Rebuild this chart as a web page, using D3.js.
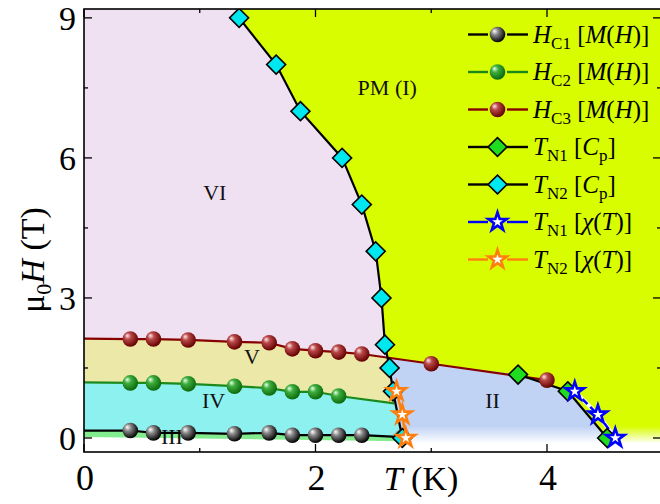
<!DOCTYPE html>
<html>
<head>
<meta charset="utf-8">
<script src="https://cdn.jsdelivr.net/npm/d3@7"></script>
<style>
  body { margin: 0; background: #fff; }
</style>
</head>
<body>
<div id="chart"></div>
<script>
// phase diagram data
const hc1T = [0.4, 0.6, 0.9, 1.3, 1.6, 1.8, 2.0, 2.2, 2.4, 2.75];
const hc1H = [0.16, 0.11, 0.11, 0.09, 0.11, 0.06, 0.06, 0.06, 0.06, 0.02];
const hc2T = [0.4, 0.6, 0.9, 1.3, 1.6, 1.8, 2.0, 2.2];
const hc2H = [1.18, 1.18, 1.16, 1.11, 1.07, 0.99, 0.99, 0.90];
const hc3T = [0.4, 0.6, 0.9, 1.3, 1.6, 1.8, 2.0, 2.2, 2.4, 3.0, 4.0];
const hc3H = [2.12, 2.12, 2.10, 2.06, 2.04, 1.91, 1.87, 1.84, 1.80, 1.59, 1.24];
const tn2CpT = [1.34, 1.66, 1.87, 2.23, 2.40, 2.52, 2.57, 2.60, 2.64, 2.67, 2.75];
const tn2CpH = [9, 8, 7, 6, 5, 4, 3, 2, 1.5, 1, 0];
const tn1CpT = [3.75, 4.18, 4.52];
const tn1CpH = [1.36, 1.0, 0];
const tn1ChiT = [4.24, 4.44, 4.59];
const tn1ChiH = [1.0, 0.5, 0];
const tn2ChiT = [2.70, 2.75, 2.78];
const tn2ChiH = [1.0, 0.5, 0];

// line ends that carry no symbol
const hc1Start = [0, 0.16];
const hc2Start = [0, 1.19];
const hc2End = [2.68, 0.74];
const hc3Start = [0, 2.13];
const tn2Top = [1.37, 9.19];
const tn2Bottom = [2.77, -0.3];
const tn1Bottom = [4.56, -0.3];
const phase3Low = [[0, 0.02], [2.75, -0.07]];

const xTicks = [0, 1, 2, 3, 4];
const xLabels = ["0", "", "2", "", "4"];
const yTicks = [0, 1.5, 3, 4.5, 6, 7.5, 9];
const yLabels = ["0", "", "3", "", "6", "", "9"];

const regionNames = ["PM (I)", "VI", "V", "IV", "III", "II"];
const regionT = [2.62, 1.13, 1.45, 1.12, 0.76, 3.53];
const regionH = [7.35, 5.1, 1.58, 0.65, -0.12, 0.65];

const zip = (a, b) => a.map((v, i) => [v, b[i]]);

const W = 660, H = 504;
const serif = "'Liberation Serif', 'Times New Roman', Times, serif";
const x = d3.scaleLinear().domain([0, 4.985]).range([84, 661]);
const y = d3.scaleLinear().domain([-0.3, 9.19]).range([452, 9]);

const svg = d3.select("#chart").append("svg")
    .attr("width", W)
    .attr("height", H)
    .attr("font-family", serif);

const defs = svg.append("defs");

defs.append("clipPath").attr("id", "plotClip")
  .append("rect")
    .attr("x", x(0)).attr("y", y(9.19))
    .attr("width", x(4.985) - x(0)).attr("height", y(-0.3) - y(9.19));

// region left of the TN2 line
const leftPoly = [[0, 9.19], tn2Top, ...zip(tn2CpT, tn2CpH), tn2Bottom, [0, -0.3]];
defs.append("clipPath").attr("id", "leftClip")
  .append("path")
    .attr("d", d3.line().x(d => x(d[0])).y(d => y(d[1]))(leftPoly) + "Z");

const fade = defs.append("linearGradient").attr("id", "fade")
    .attr("gradientUnits", "userSpaceOnUse")
    .attr("x1", 0).attr("x2", 0)
    .attr("y1", y(0.25)).attr("y2", y(-0.12));
fade.append("stop").attr("offset", 0).attr("stop-color", "#fff").attr("stop-opacity", 0);
fade.append("stop").attr("offset", 1).attr("stop-color", "#fff").attr("stop-opacity", 1);

function ball(id, c0, c1, c2) {
  const g = defs.append("radialGradient").attr("id", id)
      .attr("cx", "40%").attr("cy", "38%").attr("r", "62%")
      .attr("fx", "30%").attr("fy", "28%");
  g.append("stop").attr("offset", 0).attr("stop-color", c0);
  g.append("stop").attr("offset", 0.35).attr("stop-color", c1);
  g.append("stop").attr("offset", 1).attr("stop-color", c2);
}
ball("ballK", "#ffffff", "#8a8a8a", "#000000");
ball("ballG", "#e8ffe8", "#3fae3f", "#0b6a0b");
ball("ballR", "#ffe8e8", "#b94848", "#650000");

const line = d3.line().x(d => x(d[0])).y(d => y(d[1]));
const areaDown = d3.area().x(d => x(d[0])).y0(y(-0.3)).y1(d => y(d[1]));

const plot = svg.append("g").attr("clip-path", "url(#plotClip)");

// background fills
plot.append("rect")
    .attr("x", x(0)).attr("y", y(9.19))
    .attr("width", x(4.985) - x(0)).attr("height", y(-0.3) - y(9.19))
    .attr("fill", "#d8fd00");

const bluePoly = [hc3Start, ...zip(hc3T, hc3H).filter(d => d[0] < tn1CpT[0]),
  ...zip(tn1CpT, tn1CpH), tn1Bottom, [0, -0.3]];
plot.append("path")
    .attr("d", line(bluePoly) + "Z")
    .attr("fill", "#c0d3f5");

plot.append("rect")
    .attr("x", x(0)).attr("y", y(0.25))
    .attr("width", x(4.985) - x(0)).attr("height", y(-0.3) - y(0.25))
    .attr("fill", "url(#fade)");

const left = plot.append("g").attr("clip-path", "url(#leftClip)");
left.append("rect")
    .attr("x", x(0)).attr("y", y(9.19))
    .attr("width", x(3.2) - x(0)).attr("height", y(-0.3) - y(9.19))
    .attr("fill", "#f0e1f2");
left.append("path")
    .attr("d", areaDown([hc3Start, ...zip(hc3T, hc3H)]))
    .attr("fill", "#ece8a7");
left.append("path")
    .attr("d", areaDown([hc2Start, ...zip(hc2T, hc2H), hc2End, [3.2, hc2End[1]]]))
    .attr("fill", "#8df1ef");
left.append("path")
    .attr("d", areaDown([hc1Start, ...zip(hc1T, hc1H), [3.2, 0.02]]))
    .attr("fill", "#82ec8e");
left.append("path")
    .attr("d", areaDown([...phase3Low, [3.2, -0.07]]))
    .attr("fill", "#fff");

// region names
plot.selectAll("text.region")
  .data(regionNames)
  .join("text")
    .attr("class", "region")
    .attr("x", (d, i) => x(regionT[i]))
    .attr("y", (d, i) => y(regionH[i]))
    .attr("text-anchor", "middle")
    .attr("font-size", 22)
    .attr("fill", "#111")
    .text(d => d);

// boundary lines
plot.append("path").attr("d", line([hc3Start, ...zip(hc3T, hc3H)]))
    .attr("fill", "none").attr("stroke", "#870000").attr("stroke-width", 2.2);
plot.append("path").attr("d", line([hc2Start, ...zip(hc2T, hc2H), hc2End]))
    .attr("fill", "none").attr("stroke", "#1b8a1b").attr("stroke-width", 2.2);
plot.append("path").attr("d", line([hc1Start, ...zip(hc1T, hc1H)]))
    .attr("fill", "none").attr("stroke", "#000").attr("stroke-width", 2.2);
plot.append("path").attr("d", line(zip(tn2CpT, tn2CpH)))
    .attr("fill", "none").attr("stroke", "#000").attr("stroke-width", 2.2);
plot.append("path").attr("d", line(zip(tn1CpT, tn1CpH)))
    .attr("fill", "none").attr("stroke", "#000").attr("stroke-width", 2.2);
plot.append("path").attr("d", line(zip(tn2ChiT, tn2ChiH)))
    .attr("fill", "none").attr("stroke", "#ff7f0e").attr("stroke-width", 2.5);
plot.append("path").attr("d", line(zip(tn1ChiT, tn1ChiH)))
    .attr("fill", "none").attr("stroke", "#fff").attr("stroke-width", 4);
plot.append("path").attr("d", line(zip(tn1ChiT, tn1ChiH)))
    .attr("fill", "none").attr("stroke", "#0000ff").attr("stroke-width", 2.5)
    .attr("stroke-dasharray", "7,4");

// symbols
const diamond = d3.symbol(d3.symbolSquare, 180);
const star = d3.symbol(d3.symbolStar, 105);

function balls(T, Hs, fill) {
  plot.append("g").selectAll("circle")
    .data(zip(T, Hs))
    .join("circle")
      .attr("cx", d => x(d[0]))
      .attr("cy", d => y(d[1]))
      .attr("r", 7.8)
      .attr("fill", fill);
}
function diamonds(T, Hs, fill) {
  plot.append("g").selectAll("path")
    .data(zip(T, Hs))
    .join("path")
      .attr("d", diamond)
      .attr("transform", d => `translate(${x(d[0])},${y(d[1])}) rotate(45)`)
      .attr("fill", fill)
      .attr("stroke", "#000")
      .attr("stroke-width", 1.6);
}
function stars(T, Hs, color) {
  plot.append("g").selectAll("path")
    .data(zip(T, Hs))
    .join("path")
      .attr("d", star)
      .attr("transform", d => `translate(${x(d[0])},${y(d[1])})`)
      .attr("fill", "#fff")
      .attr("stroke", color)
      .attr("stroke-width", 2.6)
      .attr("stroke-linejoin", "miter");
}

balls(hc1T, hc1H, "url(#ballK)");
balls(hc2T, hc2H, "url(#ballG)");
diamonds(tn2CpT, tn2CpH, "#00e8ef");
diamonds(tn1CpT, tn1CpH, "#1fdc1f");
balls(hc3T, hc3H, "url(#ballR)");
stars(tn2ChiT, tn2ChiH, "#ff7f0e");
stars(tn1ChiT, tn1ChiH, "#0000ff");

// frame and ticks
svg.append("rect")
    .attr("x", x(0)).attr("y", y(9.19))
    .attr("width", x(4.985) - x(0)).attr("height", y(-0.3) - y(9.19))
    .attr("fill", "none").attr("stroke", "#000").attr("stroke-width", 1.6);

const tickLen = (lab) => lab === "" ? 4 : 8;
const ticks = svg.append("g").attr("stroke", "#000").attr("stroke-width", 1.3);
xTicks.forEach((t, i) => {
  ticks.append("line").attr("x1", x(t)).attr("x2", x(t))
      .attr("y1", y(-0.3)).attr("y2", y(-0.3) - tickLen(xLabels[i]));
  ticks.append("line").attr("x1", x(t)).attr("x2", x(t))
      .attr("y1", y(9.19)).attr("y2", y(9.19) + tickLen(xLabels[i]));
});
yTicks.forEach((t, i) => {
  ticks.append("line").attr("x1", x(0)).attr("x2", x(0) + tickLen(yLabels[i]))
      .attr("y1", y(t)).attr("y2", y(t));
  ticks.append("line").attr("x1", x(4.985)).attr("x2", x(4.985) - tickLen(yLabels[i]))
      .attr("y1", y(t)).attr("y2", y(t));
});

svg.append("g").selectAll("text")
  .data(xTicks)
  .join("text")
    .attr("x", d => x(d) + 1)
    .attr("y", 490)
    .attr("text-anchor", "middle")
    .attr("font-size", 36)
    .text((d, i) => xLabels[i]);

svg.append("g").selectAll("text")
  .data(yTicks)
  .join("text")
    .attr("x", 76)
    .attr("y", d => y(d) + 12.5)
    .attr("text-anchor", "end")
    .attr("font-size", 34)
    .text((d, i) => yLabels[i]);

// axis titles
const xt = svg.append("text")
    .attr("x", 421).attr("y", 490)
    .attr("text-anchor", "middle")
    .attr("font-size", 34);
xt.append("tspan").attr("font-style", "italic").text("T");
xt.append("tspan").text(" (K)");

const yt = svg.append("text")
    .attr("transform", "translate(44,260) rotate(-90)")
    .attr("text-anchor", "middle")
    .attr("font-size", 34);
yt.append("tspan").text("μ");
yt.append("tspan").attr("font-size", 22).attr("dy", 7).text("0");
yt.append("tspan").attr("font-style", "italic").attr("dy", -7).text("H");
yt.append("tspan").text(" (T)");

// legend
const legendItems = [
  { color: "#000", sym: "ball", fill: "url(#ballK)", txt: [["H", "i"], ["C1", "s"], [" [", ""], ["M", "i"], ["(", ""], ["H", "i"], [")]", ""]] },
  { color: "#1b8a1b", sym: "ball", fill: "url(#ballG)", txt: [["H", "i"], ["C2", "s"], [" [", ""], ["M", "i"], ["(", ""], ["H", "i"], [")]", ""]] },
  { color: "#870000", sym: "ball", fill: "url(#ballR)", txt: [["H", "i"], ["C3", "s"], [" [", ""], ["M", "i"], ["(", ""], ["H", "i"], [")]", ""]] },
  { color: "#000", sym: "diamond", fill: "#1fdc1f", txt: [["T", "i"], ["N1", "s"], [" [", ""], ["C", "i"], ["p", "s"], ["]", ""]] },
  { color: "#000", sym: "diamond", fill: "#00e8ef", txt: [["T", "i"], ["N2", "s"], [" [", ""], ["C", "i"], ["p", "s"], ["]", ""]] },
  { color: "#0000ff", sym: "star", fill: "#0000ff", txt: [["T", "i"], ["N1", "s"], [" [", ""], ["χ", "i"], ["(", ""], ["T", "i"], [")]", ""]] },
  { color: "#ff7f0e", sym: "star", fill: "#ff7f0e", txt: [["T", "i"], ["N2", "s"], [" [", ""], ["χ", "i"], ["(", ""], ["T", "i"], [")]", ""]] }
];

const legend = svg.append("g");
legendItems.forEach((it, i) => {
  const cy = 34.5 + i * 37.5;
  const g = legend.append("g").attr("transform", `translate(0,${cy})`);
  g.append("line").attr("x1", 468).attr("x2", 488).attr("y1", 0).attr("y2", 0)
      .attr("stroke", it.color).attr("stroke-width", 2.4);
  g.append("line").attr("x1", 507).attr("x2", 528).attr("y1", 0).attr("y2", 0)
      .attr("stroke", it.color).attr("stroke-width", 2.4);
  if (it.sym === "ball") {
    g.append("circle").attr("cx", 497.5).attr("cy", 0).attr("r", 7.8).attr("fill", it.fill);
  } else if (it.sym === "diamond") {
    g.append("path").attr("d", diamond())
        .attr("transform", "translate(497.5,0) rotate(45)")
        .attr("fill", it.fill).attr("stroke", "#000").attr("stroke-width", 1.6);
  } else {
    g.append("path").attr("d", star())
        .attr("transform", "translate(497.5,0)")
        .attr("fill", "#fff").attr("stroke", it.fill).attr("stroke-width", 2.6);
  }
  const t = g.append("text").attr("x", 533).attr("y", 8).attr("font-size", 25);
  let sub = false;
  it.txt.forEach(([s, k]) => {
    const sp = t.append("tspan").text(s);
    if (k === "i") sp.attr("font-style", "italic");
    if (k === "s") { sp.attr("font-size", 17).attr("dy", sub ? 0 : 6); sub = true; }
    else if (sub) { sp.attr("dy", -6); sub = false; }
  });
});
</script>
</body>
</html>
